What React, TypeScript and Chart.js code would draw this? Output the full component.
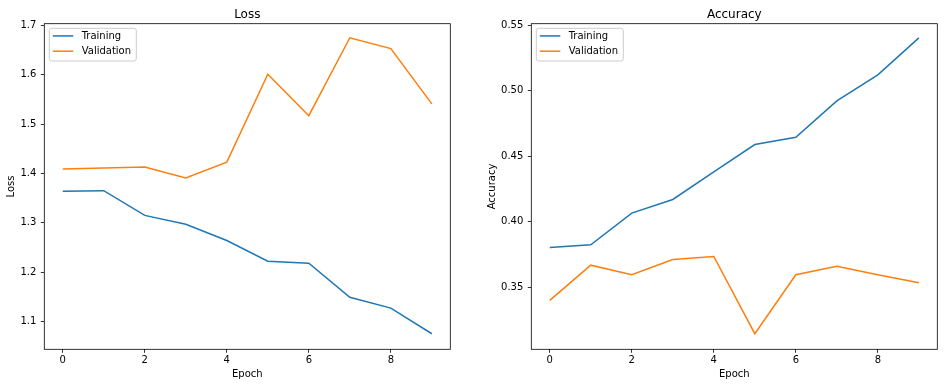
import React, { useEffect, useRef } from "react";
import { Chart, registerables } from "chart.js";

Chart.register(...registerables);

const epochs = [0, 1, 2, 3, 4, 5, 6, 7, 8, 9];
const seriesNames = ["Training", "Validation"];
const seriesColors = ["#1f77b4", "#ff7f0e"];

const lossTraining = [1.364, 1.365, 1.315, 1.297, 1.264, 1.222, 1.218, 1.149, 1.127, 1.075];
const lossValidation = [1.409, 1.411, 1.413, 1.391, 1.423, 1.601, 1.517, 1.675, 1.653, 1.541];

const accTraining = [0.3805, 0.3825, 0.4067, 0.4171, 0.4382, 0.459, 0.4646, 0.4923, 0.5122, 0.5404];
const accValidation = [0.3401, 0.367, 0.3597, 0.3713, 0.3736, 0.3147, 0.3597, 0.3662, 0.3597, 0.3536];

const epochTicks = [0, 2, 4, 6, 8];
const lossTicks = [1.1, 1.2, 1.3, 1.4, 1.5, 1.6, 1.7];
const accTicks = [0.35, 0.4, 0.45, 0.5, 0.55];

const FONT = "'DejaVu Sans', sans-serif";

type PanelSpec = {
  title: string;
  yLabel: string;
  train: number[];
  val: number[];
  yTicks: number[];
  yDecimals: number;
  yMin: number;
  yMax: number;
  yScaleWidth: number;
  yTitlePad: number;
  padRight: number;
};

const panelPlugin = (title: string) => ({
  id: "mplDecor",
  afterDraw(chart: any) {
    const { ctx, chartArea } = chart;
    const { left, right, top, bottom } = chartArea;
    ctx.save();
    // frame (spines)
    ctx.strokeStyle = "#000";
    ctx.lineWidth = 0.8;
    ctx.strokeRect(left, top, right - left, bottom - top);
    // title
    ctx.fillStyle = "#000";
    ctx.font = `12px ${FONT}`;
    ctx.textAlign = "center";
    ctx.textBaseline = "alphabetic";
    ctx.fillText(title, (left + right) / 2, top - 6);
    // legend
    const bx = left + 5;
    const by = top + 4.6;
    const bw = 87;
    const bh = 32.7;
    const r = 2.5;
    ctx.beginPath();
    ctx.moveTo(bx + r, by);
    ctx.lineTo(bx + bw - r, by);
    ctx.arcTo(bx + bw, by, bx + bw, by + r, r);
    ctx.lineTo(bx + bw, by + bh - r);
    ctx.arcTo(bx + bw, by + bh, bx + bw - r, by + bh, r);
    ctx.lineTo(bx + r, by + bh);
    ctx.arcTo(bx, by + bh, bx, by + bh - r, r);
    ctx.lineTo(bx, by + r);
    ctx.arcTo(bx, by, bx + r, by, r);
    ctx.closePath();
    ctx.fillStyle = "rgba(255,255,255,0.8)";
    ctx.fill();
    ctx.strokeStyle = "#cccccc";
    ctx.lineWidth = 1;
    ctx.stroke();
    ctx.font = `10px ${FONT}`;
    ctx.textAlign = "left";
    ctx.textBaseline = "middle";
    chart.data.datasets.forEach((ds: any, i: number) => {
      const cy = by + 7.6 + i * 15.3;
      ctx.strokeStyle = ds.borderColor;
      ctx.lineWidth = 1.5;
      ctx.beginPath();
      ctx.moveTo(bx + 3.5, cy);
      ctx.lineTo(bx + 24, cy);
      ctx.stroke();
      ctx.fillStyle = "#000";
      ctx.fillText(ds.label, bx + 32.4, cy + 0.5);
    });
    ctx.restore();
  },
});

function Panel({ spec, width }: { spec: PanelSpec; width: number }) {
  const ref = useRef<HTMLCanvasElement | null>(null);
  useEffect(() => {
    if (!ref.current) return;
    const font = { family: FONT, size: 10 };
    const chart = new Chart(ref.current, {
      type: "line",
      data: {
        datasets: [spec.train, spec.val].map((vals, i) => ({
          label: seriesNames[i],
          data: epochs.map((e, j) => ({ x: e, y: vals[j] })),
          borderColor: seriesColors[i],
          backgroundColor: seriesColors[i],
          borderWidth: 1.5,
          pointRadius: 0,
          tension: 0,
          fill: false,
        })),
      },
      options: {
        animation: false,
        responsive: false,
        events: [],
        layout: { padding: { left: 0, top: 23.7, right: spec.padRight, bottom: 0 } },
        plugins: {
          legend: { display: false },
          title: { display: false },
          tooltip: { enabled: false },
        },
        scales: {
          x: {
            type: "linear",
            min: -0.45,
            max: 9.45,
            afterBuildTicks: (s: any) => {
              s.ticks = epochTicks.map((v) => ({ value: v }));
            },
            afterFit: (s: any) => {
              s.height = 37.7;
            },
            grid: {
              drawOnChartArea: false,
              drawTicks: true,
              tickLength: 3.5,
              color: "#000",
              lineWidth: 0.8,
            },
            border: { display: false },
            ticks: {
              color: "#000",
              font,
              padding: 2,
              maxRotation: 0,
              autoSkip: false,
              callback: (v: any) => String(v),
            },
            title: {
              display: true,
              text: "Epoch",
              color: "#000",
              font,
              padding: { top: 0, bottom: 7 },
            },
          },
          y: {
            type: "linear",
            min: spec.yMin,
            max: spec.yMax,
            afterBuildTicks: (s: any) => {
              s.ticks = spec.yTicks.map((v) => ({ value: v }));
            },
            afterFit: (s: any) => {
              s.width = spec.yScaleWidth;
            },
            grid: {
              drawOnChartArea: false,
              drawTicks: true,
              tickLength: 3.5,
              color: "#000",
              lineWidth: 0.8,
            },
            border: { display: false },
            ticks: {
              color: "#000",
              font,
              padding: 4.5,
              autoSkip: false,
              callback: (v: any) => Number(v).toFixed(spec.yDecimals),
            },
            title: {
              display: true,
              text: spec.yLabel,
              color: "#000",
              font,
              padding: { top: spec.yTitlePad, bottom: 0 },
            },
          },
        },
      } as any,
      plugins: [panelPlugin(spec.title)],
    });
    return () => chart.destroy();
  }, [spec]);
  return <canvas ref={ref} width={width} height={387} style={{ display: "block", width, height: 387 }} />;
}

const lossSpec: PanelSpec = {
  title: "Loss",
  yLabel: "Loss",
  train: lossTraining,
  val: lossValidation,
  yTicks: lossTicks,
  yDecimals: 1,
  yMin: 1.0435,
  yMax: 1.7035,
  yScaleWidth: 44.3,
  yTitlePad: 5.7,
  padRight: 22.7,
};

const accSpec: PanelSpec = {
  title: "Accuracy",
  yLabel: "Accuracy",
  train: accTraining,
  val: accValidation,
  yTicks: accTicks,
  yDecimals: 2,
  yMin: 0.3028,
  yMax: 0.5512,
  yScaleWidth: 58.3,
  yTitlePad: 13,
  padRight: 9.7,
};

export default function App() {
  return (
    <div
      style={{
        position: "fixed",
        left: 0,
        top: 0,
        width: 947,
        height: 387,
        background: "#fff",
        display: "flex",
      }}
    >
      <Panel spec={lossSpec} width={473} />
      <Panel spec={accSpec} width={474} />
    </div>
  );
}
